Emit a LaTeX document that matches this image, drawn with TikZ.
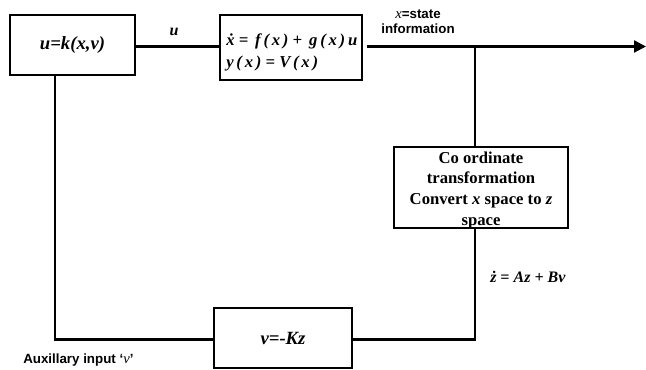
\documentclass[tikz,border=0pt]{standalone}
\usepackage{fontspec}
\setmainfont{Liberation Serif}
\newfontfamily\arialfont{Liberation Sans}
\usetikzlibrary{arrows.meta}
\tikzset{
  blk/.style={draw, line width=2.1pt, inner sep=0pt, minimum width=#1},
  wire/.style={line width=1.7pt},
  mathlbl/.style={font=\bfseries\itshape, inner sep=0pt},
  sanslbl/.style={font=\arialfont\bfseries\fontsize{10}{11.5}\selectfont, inner sep=0pt, align=center},
}
\begin{document}
\begin{tikzpicture}[x=0.75pt, y=-0.75pt]
  \useasboundingbox (0,0) rectangle (646,370);

  % controller block
  \node[blk=125*0.75pt, minimum height=60*0.75pt, font=\bfseries\itshape\fontsize{14}{16}\selectfont]
    (ctrl) at (72.5,45) {u=k(x,v)};

  % plant block
  \node[blk=142*0.75pt, minimum height=65*0.75pt] (plant) at (291,47.5) {};
  \node[mathlbl, anchor=west, align=left, font=\bfseries\itshape\fontsize{12.5}{16.5}\selectfont]
    (plantTxt) at (226,52.5) {\.x = \,f\,(\,x\,) + \,g\,(\,x\,)\,u\\y\,(\,x\,) = V\,(\,x\,)};

  % coordinate transformation block
  \node[blk=174*0.75pt, minimum height=81*0.75pt] (trans) at (481,187.5) {};
  \node[inner sep=0pt, align=center, font=\bfseries\fontsize{12.5}{15.5}\selectfont]
    (transTxt) at (481,190) {Co ordinate\\transformation\\Convert \textit{x} space to \textit{z}\\space};

  % linear feedback block
  \node[blk=138*0.75pt, minimum height=60*0.75pt, font=\bfseries\itshape\fontsize{14}{16}\selectfont]
    (fb) at (283,338) {v=-Kz};

  % junctions and the free end of the state output
  \coordinate (tap) at (475,46.5);
  \coordinate (out) at (646,46.5);
  \coordinate (fbCorner) at (475,339.5);
  \coordinate (ctrlCorner) at (55,339.5);

  % connectors
  \draw[wire] (ctrl.east |- 0,46.5) -- (plant.west |- 0,46.5);
  \draw[wire, -{Triangle[length=9pt,width=9pt]}] ([xshift=3pt]plant.east |- 0,46.5) -- (out);
  \draw[wire] (tap) -- (trans.north -| tap);
  \draw[wire] (trans.south -| tap) -- (fbCorner) -- (fb.east |- fbCorner);
  \draw[wire] (fb.west |- ctrlCorner) -- (ctrlCorner) -- (ctrl.south -| ctrlCorner);

  % labels
  \node[mathlbl, font=\bfseries\itshape\fontsize{12}{14}\selectfont] (uLbl) at (174,32) {u};
  \node[sanslbl] (stateLbl) at (418,22) {{\rmfamily\itshape\mdseries\fontsize{11}{11.5}\selectfont x}=state\\information};
  \node[mathlbl, anchor=west, font=\bfseries\itshape\fontsize{12}{14}\selectfont] (zLbl) at (490,277) {\.z = Az + Bv};
  \node[sanslbl, anchor=west] (auxLbl) at (23,360) {Auxillary input ‘{\rmfamily\itshape\mdseries\fontsize{11}{11.5}\selectfont v}’};
\end{tikzpicture}
\end{document}
